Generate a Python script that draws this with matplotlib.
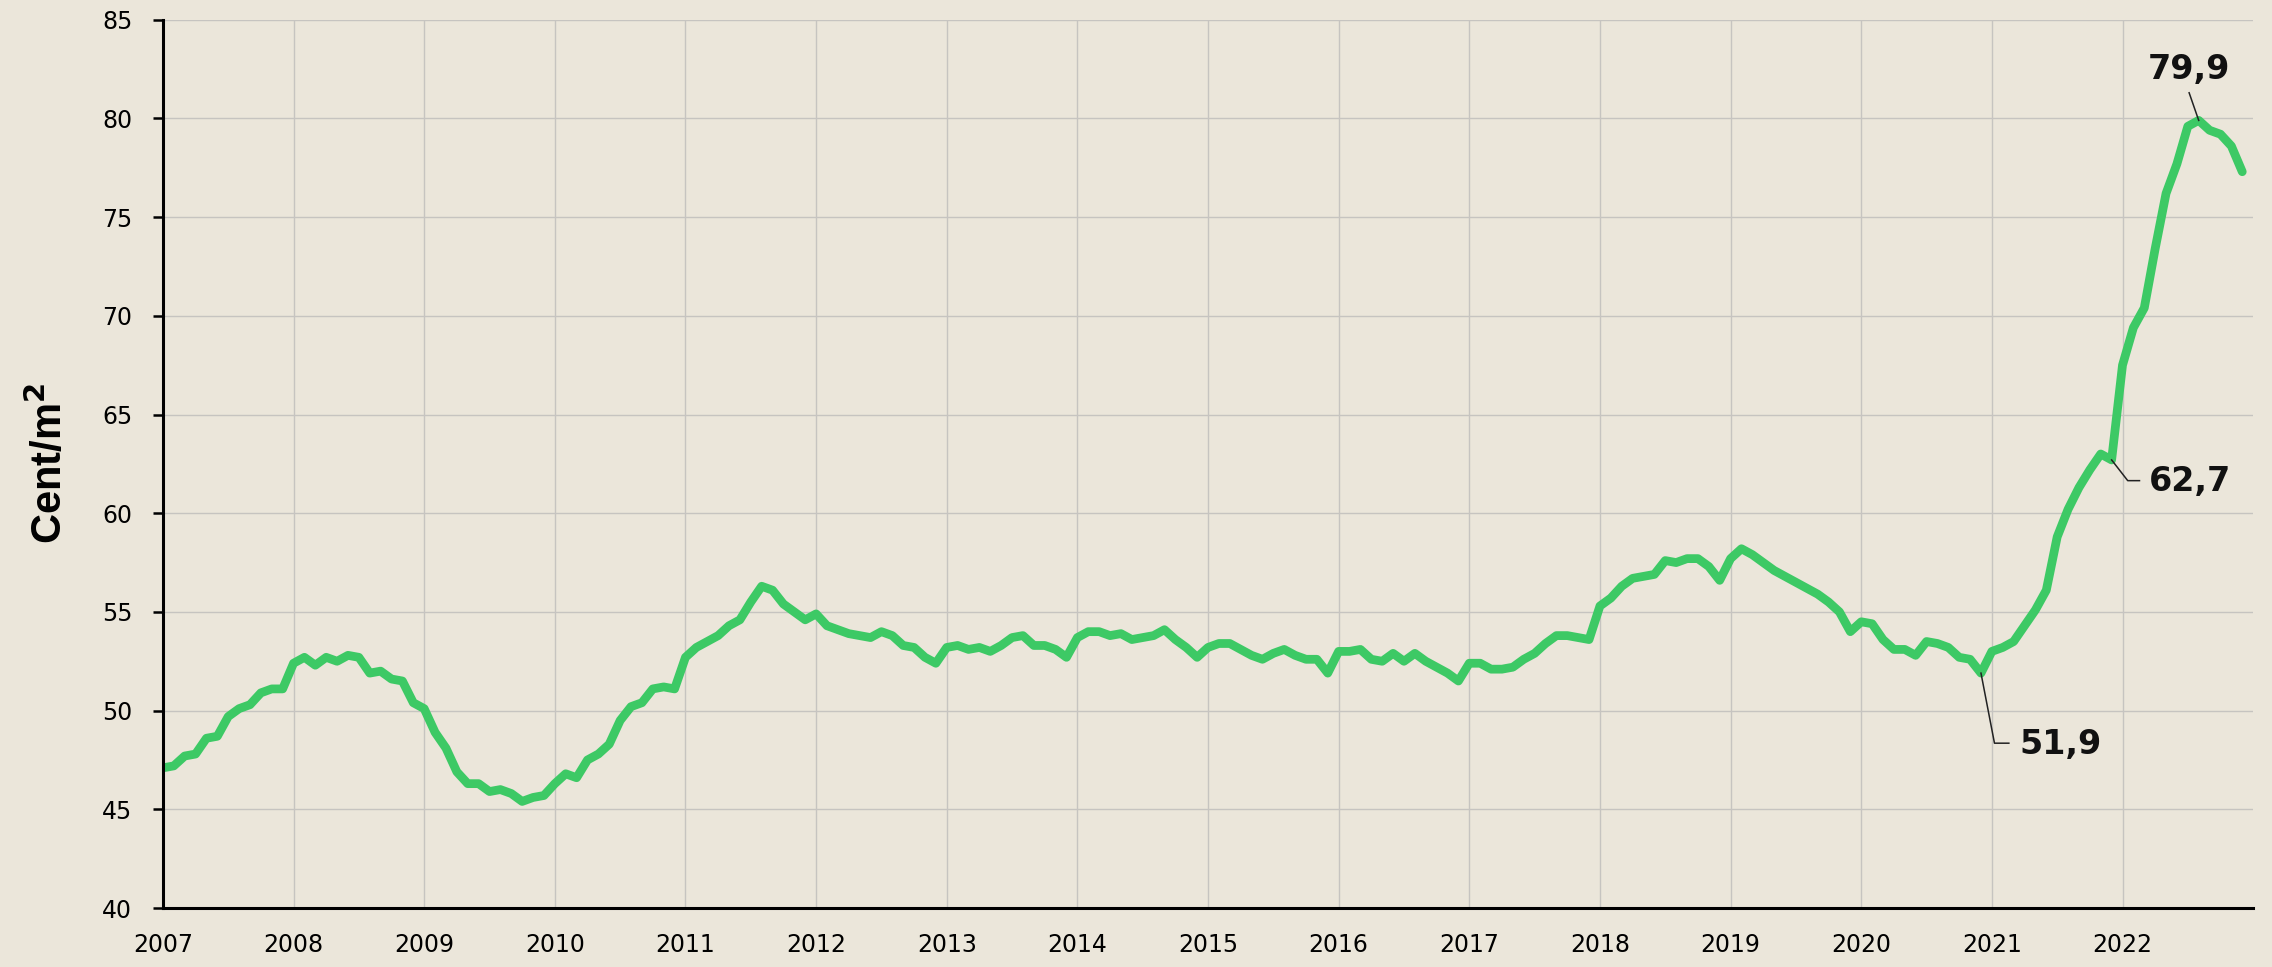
import numpy as np
import matplotlib
matplotlib.use("Agg")
from matplotlib import pyplot as plt

# monthly values, Jan 2007 .. Dec 2022 (Cent/m2)
v2007 = [47.1, 47.2, 47.7, 47.8, 48.6, 48.7, 49.7, 50.1, 50.3, 50.9, 51.1, 51.1]
v2008 = [52.4, 52.7, 52.3, 52.7, 52.5, 52.8, 52.7, 51.9, 52.0, 51.6, 51.5, 50.4]
v2009 = [50.1, 48.9, 48.1, 46.9, 46.3, 46.3, 45.9, 46.0, 45.8, 45.4, 45.6, 45.7]
v2010 = [46.3, 46.8, 46.6, 47.5, 47.8, 48.3, 49.5, 50.2, 50.4, 51.1, 51.2, 51.1]
v2011 = [52.7, 53.2, 53.5, 53.8, 54.3, 54.6, 55.5, 56.3, 56.1, 55.4, 55.0, 54.6]
v2012 = [54.9, 54.3, 54.1, 53.9, 53.8, 53.7, 54.0, 53.8, 53.3, 53.2, 52.7, 52.4]
v2013 = [53.2, 53.3, 53.1, 53.2, 53.0, 53.3, 53.7, 53.8, 53.3, 53.3, 53.1, 52.7]
v2014 = [53.7, 54.0, 54.0, 53.8, 53.9, 53.6, 53.7, 53.8, 54.1, 53.6, 53.2, 52.7]
v2015 = [53.2, 53.4, 53.4, 53.1, 52.8, 52.6, 52.9, 53.1, 52.8, 52.6, 52.6, 51.9]
v2016 = [53.0, 53.0, 53.1, 52.6, 52.5, 52.9, 52.5, 52.9, 52.5, 52.2, 51.9, 51.5]
v2017 = [52.4, 52.4, 52.1, 52.1, 52.2, 52.6, 52.9, 53.4, 53.8, 53.8, 53.7, 53.6]
v2018 = [55.3, 55.7, 56.3, 56.7, 56.8, 56.9, 57.6, 57.5, 57.7, 57.7, 57.3, 56.6]
v2019 = [57.7, 58.2, 57.9, 57.5, 57.1, 56.8, 56.5, 56.2, 55.9, 55.5, 55.0, 54.0]
v2020 = [54.5, 54.4, 53.6, 53.1, 53.1, 52.8, 53.5, 53.4, 53.2, 52.7, 52.6, 51.9]
v2021 = [53.0, 53.2, 53.5, 54.3, 55.1, 56.1, 58.8, 60.2, 61.3, 62.2, 63.0, 62.7]
v2022 = [67.5, 69.4, 70.4, 73.4, 76.2, 77.7, 79.6, 79.9, 79.4, 79.2, 78.6, 77.3]

values = (v2007 + v2008 + v2009 + v2010 + v2011 + v2012 + v2013 + v2014
          + v2015 + v2016 + v2017 + v2018 + v2019 + v2020 + v2021 + v2022)
years = list(range(2007, 2023))

# annotated points: (index, label, text pos, elbow)
notes = [
    (167, "51,9", (2021.21, 48.3), [(2021.02, 48.35), (2021.13, 48.35)]),
    (179, "62,7", (2022.20, 61.6), [(2022.04, 61.65), (2022.13, 61.65)]),
    (187, "79,9", (2022.51, 82.5), [(2022.51, 81.3)]),
]

bg = "#ebe6da"
green = "#3dc965"

plt.rcParams['font.family'] = ['DejaVu Sans']


def main():
    x = 2007 + np.arange(len(values)) / 12.0

    fig = plt.figure(figsize=(22.72, 9.67), dpi=100, facecolor=bg)
    ax = fig.add_axes([0.0717, 0.061, 0.92, 0.9186])
    ax.set_facecolor(bg)

    ax.plot(x, values, color=green, lw=6.3, solid_joinstyle='round',
            solid_capstyle='round', zorder=3)

    for i, lab, tpos, elbow in notes:
        pts = [(x[i], values[i])] + elbow
        ax.plot([p[0] for p in pts], [p[1] for p in pts], color='#222222',
                lw=1.1, zorder=4)
        ha = 'center' if lab == "79,9" else 'left'
        ax.text(tpos[0], tpos[1], lab, fontsize=24, fontweight='bold',
                ha=ha, va='center', color='#111111', zorder=5)

    ax.set_xlim(2007, 2023)
    ax.set_ylim(40, 85)
    ax.set_xticks(years)
    ax.set_xticklabels([str(y) for y in years])
    ax.set_yticks(range(40, 86, 5))
    ax.grid(True, color='#c6c4c0', lw=1.0, zorder=0)
    ax.set_axisbelow(True)

    for s in ['top', 'right']:
        ax.spines[s].set_visible(False)
    for s in ['left', 'bottom']:
        ax.spines[s].set_linewidth(2.2)
        ax.spines[s].set_color('black')
        ax.spines[s].set_zorder(6)

    ax.tick_params(axis='y', length=7, width=1.8, pad=15, labelsize=17)
    ax.tick_params(axis='x', length=0, pad=18, labelsize=17)

    ax.set_ylabel('Cent/m$^\\mathbf{2}$', fontsize=30, fontweight='bold',
                  family=['Liberation Sans', 'DejaVu Sans'], labelpad=22)

    fig.savefig("out.png", dpi=100, facecolor=bg)


if __name__ == '__main__':
    main()
